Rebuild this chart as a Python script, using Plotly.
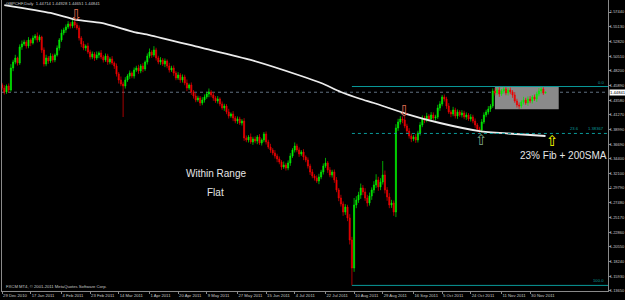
import pandas as pd
import plotly.graph_objects as go

# ---------------- data ----------------
SYMBOL_TITLE = "GBPCHF,Daily  1.44714 1.44928 1.44651 1.44841"
COPYRIGHT = "FXCM MT4, \u00a9 2001-2011 MetaQuotes Software Corp."

FIRST_DATE = "2010-12-29"
FIRST_OPEN = 1.4600

CLOSES = [
    1.4551, 1.4488, 1.4582, 1.4519, 1.4865, 1.4959, 1.5022, 1.4943, 1.5195, 1.5242,
    1.5273, 1.5210, 1.5305, 1.5258, 1.5336, 1.5368, 1.5305, 1.5352, 1.5148, 1.4928,
    1.5022, 1.4975, 1.5053, 1.4991, 1.5069, 1.5179, 1.5305, 1.5415, 1.5462, 1.5509,
    1.5556, 1.5525, 1.5587, 1.5540, 1.5493, 1.5336, 1.5242, 1.5179, 1.5210, 1.5116,
    1.5038, 1.5085, 1.5022, 1.5069, 1.5101, 1.5038, 1.4991, 1.5053, 1.4959, 1.5006,
    1.4943, 1.4896, 1.4771, 1.4676, 1.4614, 1.4582, 1.4676, 1.4739, 1.4786, 1.4739,
    1.4833, 1.4865, 1.4818, 1.4896, 1.4849, 1.4959, 1.5053, 1.5116, 1.5069, 1.5148,
    1.5022, 1.4959, 1.4991, 1.4928, 1.4975, 1.4896, 1.4833, 1.4865, 1.4786, 1.4708,
    1.4755, 1.4676, 1.4724, 1.4629, 1.4551, 1.4598, 1.4488, 1.4425, 1.4362, 1.4394,
    1.4315, 1.4362, 1.4409, 1.4456, 1.4488, 1.4441, 1.4394, 1.4347, 1.4378, 1.4299,
    1.4237, 1.4268, 1.4174, 1.4111, 1.4142, 1.4080, 1.4032, 1.4064, 1.4001, 1.4032,
    1.3765, 1.3734, 1.3781, 1.3703, 1.3750, 1.3718, 1.3781, 1.3687, 1.3734, 1.3828,
    1.3703, 1.3624, 1.3577, 1.3530, 1.3483, 1.3435, 1.3388, 1.3310, 1.3341, 1.3294,
    1.3373, 1.3483, 1.3577, 1.3640, 1.3577, 1.3514, 1.3545, 1.3467, 1.3420, 1.3326,
    1.3231, 1.3168, 1.3137, 1.3090, 1.3153, 1.3231, 1.3326, 1.3373, 1.3263, 1.3184,
    1.3231, 1.3106, 1.2949, 1.2823, 1.2729, 1.2603, 1.2681, 1.2509, 1.2163, 1.1723,
    1.2713, 1.2791, 1.2870, 1.2980, 1.2917, 1.2823, 1.2744, 1.2854, 1.2949, 1.3027,
    1.3106, 1.2996, 1.3074, 1.3184, 1.2949, 1.2839, 1.2713, 1.2744, 1.2603, 1.3922,
    1.4017, 1.4064, 1.4048, 1.3954, 1.3875, 1.3797, 1.3750, 1.3781, 1.3734, 1.3844,
    1.3970, 1.4080, 1.4048, 1.4111, 1.4064, 1.4127, 1.4080, 1.4095, 1.4237, 1.4299,
    1.4409, 1.4378, 1.4268, 1.4174, 1.4142, 1.4205, 1.4111, 1.4174, 1.4127, 1.4158,
    1.4095, 1.4127, 1.4064, 1.4095, 1.4032, 1.3970, 1.3907, 1.3891, 1.4017, 1.4127,
    1.4174, 1.4221, 1.4268, 1.4504, 1.4472, 1.4519, 1.4456, 1.4504, 1.4535, 1.4472,
    1.4519, 1.4488, 1.4441, 1.4347, 1.4284, 1.4268, 1.4331, 1.4362, 1.4315, 1.4378,
    1.4347, 1.4409, 1.4378, 1.4456, 1.4504, 1.4535, 1.4471, 1.44841,
]

UPPER_WICK_PIPS = [
    30, 45, 25, 40, 60, 35, 50, 20, 40, 55,
    35, 30, 45, 25, 40, 30, 55, 35, 20, 40,
    50, 30, 45, 35, 25, 40, 30, 55, 35, 40,
    45, 30, 35, 25, 35, 40, 30, 45, 25, 50,
    35, 40, 30, 55, 25, 45, 30, 40, 35, 30,
    45, 25, 40, 30, 55, 35, 45, 30, 40, 25,
    40, 35, 50, 30, 45, 25, 40, 55, 30, 60,
    35, 35, 45, 30, 40, 25, 50, 35, 40, 30,
    45, 30, 40, 35, 55, 25, 40, 30, 45, 35,
    30, 45, 40, 35, 55, 30, 40, 30, 45, 25,
    40, 35, 30, 50, 25, 45, 30, 40, 35, 30,
    45, 40, 30, 55, 35, 40, 30, 45, 25, 32,
    40, 35, 50, 30, 45, 35, 40, 30, 55, 35,
    40, 45, 30, 55, 35, 40, 30, 45, 25, 40,
    35, 45, 30, 40, 50, 35, 40, 80, 30, 45,
    35, 40, 45, 30, 50, 40, 45, 35, 60, 50,
    110, 60, 50, 70, 45, 60, 50, 55, 40, 60,
    90, 50, 60, 220, 70, 45, 60, 50, 40, 60,
    50, 45, 40, 55, 35, 45, 40, 30, 50, 35,
    45, 40, 35, 50, 30, 45, 40, 35, 50, 45,
    32, 40, 35, 45, 30, 50, 35, 40, 30, 45,
    35, 40, 30, 45, 35, 40, 30, 35, 45, 40,
    35, 45, 30, 40, 50, 35, 45, 30, 40, 45,
    35, 40, 30, 45, 35, 40, 30, 50, 35, 40,
    45, 30, 40, 35, 45, 35, 30, 9,
]

LOWER_WICK_PIPS = [
    35, 40, 30, 45, 25, 50, 35, 40, 30, 45,
    30, 40, 35, 50, 25, 35, 40, 30, 45, 40,
    35, 45, 30, 40, 35, 25, 40, 30, 35, 45,
    30, 40, 35, 45, 30, 40, 50, 35, 45, 30,
    40, 35, 45, 30, 50, 35, 40, 30, 45, 35,
    30, 45, 40, 55, 35, 487, 40, 30, 45, 35,
    40, 30, 45, 35, 50, 30, 40, 35, 45, 30,
    40, 35, 45, 30, 50, 35, 40, 30, 45, 35,
    30, 45, 40, 35, 50, 30, 45, 40, 35, 30,
    45, 35, 40, 30, 50, 35, 45, 30, 40, 35,
    30, 45, 35, 40, 30, 50, 35, 45, 30, 40,
    45, 35, 40, 30, 45, 35, 50, 30, 40, 35,
    40, 30, 45, 35, 40, 50, 35, 45, 30, 40,
    35, 45, 30, 40, 35, 45, 30, 50, 35, 40,
    45, 35, 40, 30, 50, 35, 40, 30, 45, 35,
    40, 45, 35, 50, 40, 60, 45, 50, 70, 273,
    60, 50, 45, 60, 50, 45, 55, 40, 60, 50,
    45, 60, 50, 40, 55, 60, 50, 45, 60, 80,
    45, 40, 50, 35, 45, 40, 50, 35, 45, 40,
    40, 35, 50, 35, 40, 45, 35, 40, 30, 45,
    35, 40, 45, 30, 50, 35, 40, 45, 30, 40,
    35, 45, 30, 40, 35, 45, 40, 50, 40, 30,
    35, 40, 45, 30, 40, 35, 45, 30, 40, 35,
    40, 35, 45, 30, 40, 45, 35, 40, 30, 45,
    35, 40, 30, 45, 35, 40, 30, 6,
]

SMA_DATES = ["2010-12-30", "2011-01-28", "2011-02-15", "2011-03-02", "2011-03-23",
             "2011-04-01", "2011-05-04", "2011-06-06", "2011-07-07", "2011-07-20",
             "2011-08-02", "2011-08-15", "2011-08-23", "2011-09-13", "2011-10-04",
             "2011-10-28", "2011-11-16", "2011-12-09"]
SMA_VALUES = [1.5854, 1.5729, 1.5619, 1.5572, 1.5430,
              1.5383, 1.5187, 1.4991, 1.4739, 1.4629,
              1.4488, 1.4378, 1.4315, 1.4142, 1.4001,
              1.3875, 1.3836, 1.3797]

DATE_TICKS = ["2010-12-29", "2011-01-17", "2011-02-04", "2011-02-23", "2011-03-14",
              "2011-04-01", "2011-04-20", "2011-05-09", "2011-05-27", "2011-06-15",
              "2011-07-04", "2011-07-22", "2011-08-10", "2011-08-29", "2011-09-16",
              "2011-10-05", "2011-10-24", "2011-11-11", "2011-11-30"]

PRICE_TICKS = [1.13650, 1.15930, 1.18240, 1.20550, 1.22860, 1.25170, 1.27480,
               1.29790, 1.32100, 1.34400, 1.36690, 1.38990, 1.41270, 1.43580,
               1.45890, 1.48200, 1.50510, 1.52820, 1.55130, 1.57440]

FIB_START = "2011-08-09"
FIB_LOW = 1.1450
FIB_HIGH = 1.4574
FIB_LEVELS = [0.0, 23.6, 100.0]

RANGE_BOX = dict(start="2011-11-08", end="2011-12-19", low=1.4216, high=1.4567)

ARROWS = [  # (date, price, glyph, colour)
    ("2011-02-15", 1.5700, "\u21e9", "#e07055"),
    ("2011-09-12", 1.4197, "\u21e9", "#e07055"),
    ("2011-10-31", 1.3734, "\u21e7", "#7fa88a"),
    ("2011-12-14", 1.3711, "\u21e7", "#ffff00"),
]

TEXTS = [  # (date, price, text)
    ("2011-05-13", 1.3200, "Within Range"),
    ("2011-05-13", 1.2917, "Flat"),
    ("2011-12-21", 1.3498, "23% Fib + 200SMA"),
]

# ---------------- derived ----------------
n = len(CLOSES)
dates = pd.bdate_range(FIRST_DATE, periods=n + 60)
pos = {d.strftime("%Y-%m-%d"): i for i, d in enumerate(dates)}
idx = list(range(n))
opens = [FIRST_OPEN] + CLOSES[:-1]
highs = [max(o, c) + u / 10000 for o, c, u in zip(opens, CLOSES, UPPER_WICK_PIPS)]
lows = [min(o, c) - l / 10000 for o, c, l in zip(opens, CLOSES, LOWER_WICK_PIPS)]
last_close = CLOSES[-1]

X_MIN, X_MAX = -0.05, 275.4
Y_MIN, Y_MAX = 1.1362, 1.5933

SMALL = dict(family="Liberation Sans, Arial", size=4.2, color="#c8c8c8")
GRID = "#8a8a8a"
TEAL = "#0a9a9a"

fig = go.Figure()
fig.add_trace(go.Candlestick(
    x=idx, open=opens, high=highs, low=lows, close=CLOSES,
    increasing=dict(line=dict(color="#00ee00", width=0.7), fillcolor="#00ee00"),
    decreasing=dict(line=dict(color="#ee0000", width=0.7), fillcolor="#ee0000"),
    whiskerwidth=0, showlegend=False, hoverinfo="skip",
))
fig.add_trace(go.Scatter(
    x=[pos[d] for d in SMA_DATES], y=SMA_VALUES, mode="lines",
    line=dict(color="#ececec", width=1.8, shape="spline", smoothing=0.6),
    showlegend=False, hoverinfo="skip",
))

shapes = []
shapes.append(dict(type="rect", xref="x", yref="y", layer="below",
                   x0=pos[RANGE_BOX["start"]], x1=pos[RANGE_BOX["end"]],
                   y0=RANGE_BOX["low"], y1=RANGE_BOX["high"],
                   fillcolor="#8a8a8a", line=dict(width=0)))
shapes.append(dict(type="line", xref="paper", yref="y", x0=0, x1=1,
                   y0=last_close, y1=last_close, layer="below",
                   line=dict(color="#5f7080", width=1, dash="dot")))
annotations = []
fib_x0 = pos[FIB_START]
fib_font = dict(family=SMALL["family"], size=4.2, color=TEAL)
for lvl in FIB_LEVELS:
    p = FIB_HIGH - lvl / 100 * (FIB_HIGH - FIB_LOW)
    shapes.append(dict(type="line", xref="x", yref="y", x0=fib_x0, x1=X_MAX,
                       y0=p, y1=p, layer="above",
                       line=dict(color=TEAL, width=1,
                                 dash="dot" if lvl == 23.6 else "solid")))
    if lvl == 23.6:
        annotations.append(dict(xref="paper", yref="y", x=0.955, y=p, text="23.6",
                                showarrow=False, xanchor="right", yanchor="bottom",
                                font=fib_font))
        annotations.append(dict(xref="paper", yref="y", x=0.997, y=p, text=f"{p:.5f}",
                                showarrow=False, xanchor="right", yanchor="bottom",
                                font=fib_font))
    else:
        annotations.append(dict(xref="paper", yref="y", x=0.997, y=p, text=f"{lvl:.1f}",
                                showarrow=False, xanchor="right", yanchor="bottom",
                                font=fib_font))

for d, p, g, col in ARROWS:
    annotations.append(dict(xref="x", yref="y", x=pos[d], y=p, text=g, showarrow=False,
                            font=dict(family="DejaVu Sans", size=15, color=col)))
for d, p, t in TEXTS:
    annotations.append(dict(xref="x", yref="y", x=pos[d], y=p, text=t, showarrow=False,
                            font=dict(family="Liberation Sans, Arial", size=10,
                                      color="#e6e6e6")))
annotations.append(dict(xref="paper", yref="paper", x=0.003, y=1.0, yshift=1,
                        text=SYMBOL_TITLE, showarrow=False, xanchor="left",
                        yanchor="top", font=SMALL))
annotations.append(dict(xref="paper", yref="paper", x=0.003, y=0.0, yshift=0,
                        text=COPYRIGHT, showarrow=False, xanchor="left",
                        yanchor="bottom", font=SMALL))
annotations.append(dict(xref="paper", yref="y", x=1.0, y=last_close, xshift=1,
                        text=f"{last_close:.5f}", showarrow=False, xanchor="left",
                        yanchor="middle", bgcolor="#ffffff", borderpad=0,
                        font=dict(family=SMALL["family"], size=4.2, color="#000000")))

fig.update_layout(
    width=625, height=300,
    margin=dict(l=2, r=17, t=0, b=9, autoexpand=False),
    paper_bgcolor="#000000", plot_bgcolor="#000000",
    shapes=shapes, annotations=annotations,
    xaxis=dict(range=[X_MIN, X_MAX], rangeslider=dict(visible=False),
               tickmode="array", tickvals=[pos[d] for d in DATE_TICKS],
               ticktext=[pd.Timestamp(d).strftime("%-d %b %Y") for d in DATE_TICKS],
               ticks="outside", ticklen=2, tickcolor=GRID, tickangle=0,
               ticklabelposition="outside right", automargin=False,
               showgrid=False, zeroline=False, showline=True, linecolor=GRID,
               linewidth=1, tickfont=SMALL),
    yaxis=dict(range=[Y_MIN, Y_MAX], side="right", tickmode="array",
               tickvals=PRICE_TICKS, ticktext=[f"{v:.5f}" for v in PRICE_TICKS],
               ticks="outside", ticklen=2, tickcolor=GRID, automargin=False,
               ticklabelstandoff=-2,
               showgrid=False, zeroline=False, showline=True, linecolor=GRID,
               linewidth=1, mirror=True,
               tickfont=dict(family=SMALL["family"], size=4.0, color="#c8c8c8")),
)

fig.write_html("out.html")
